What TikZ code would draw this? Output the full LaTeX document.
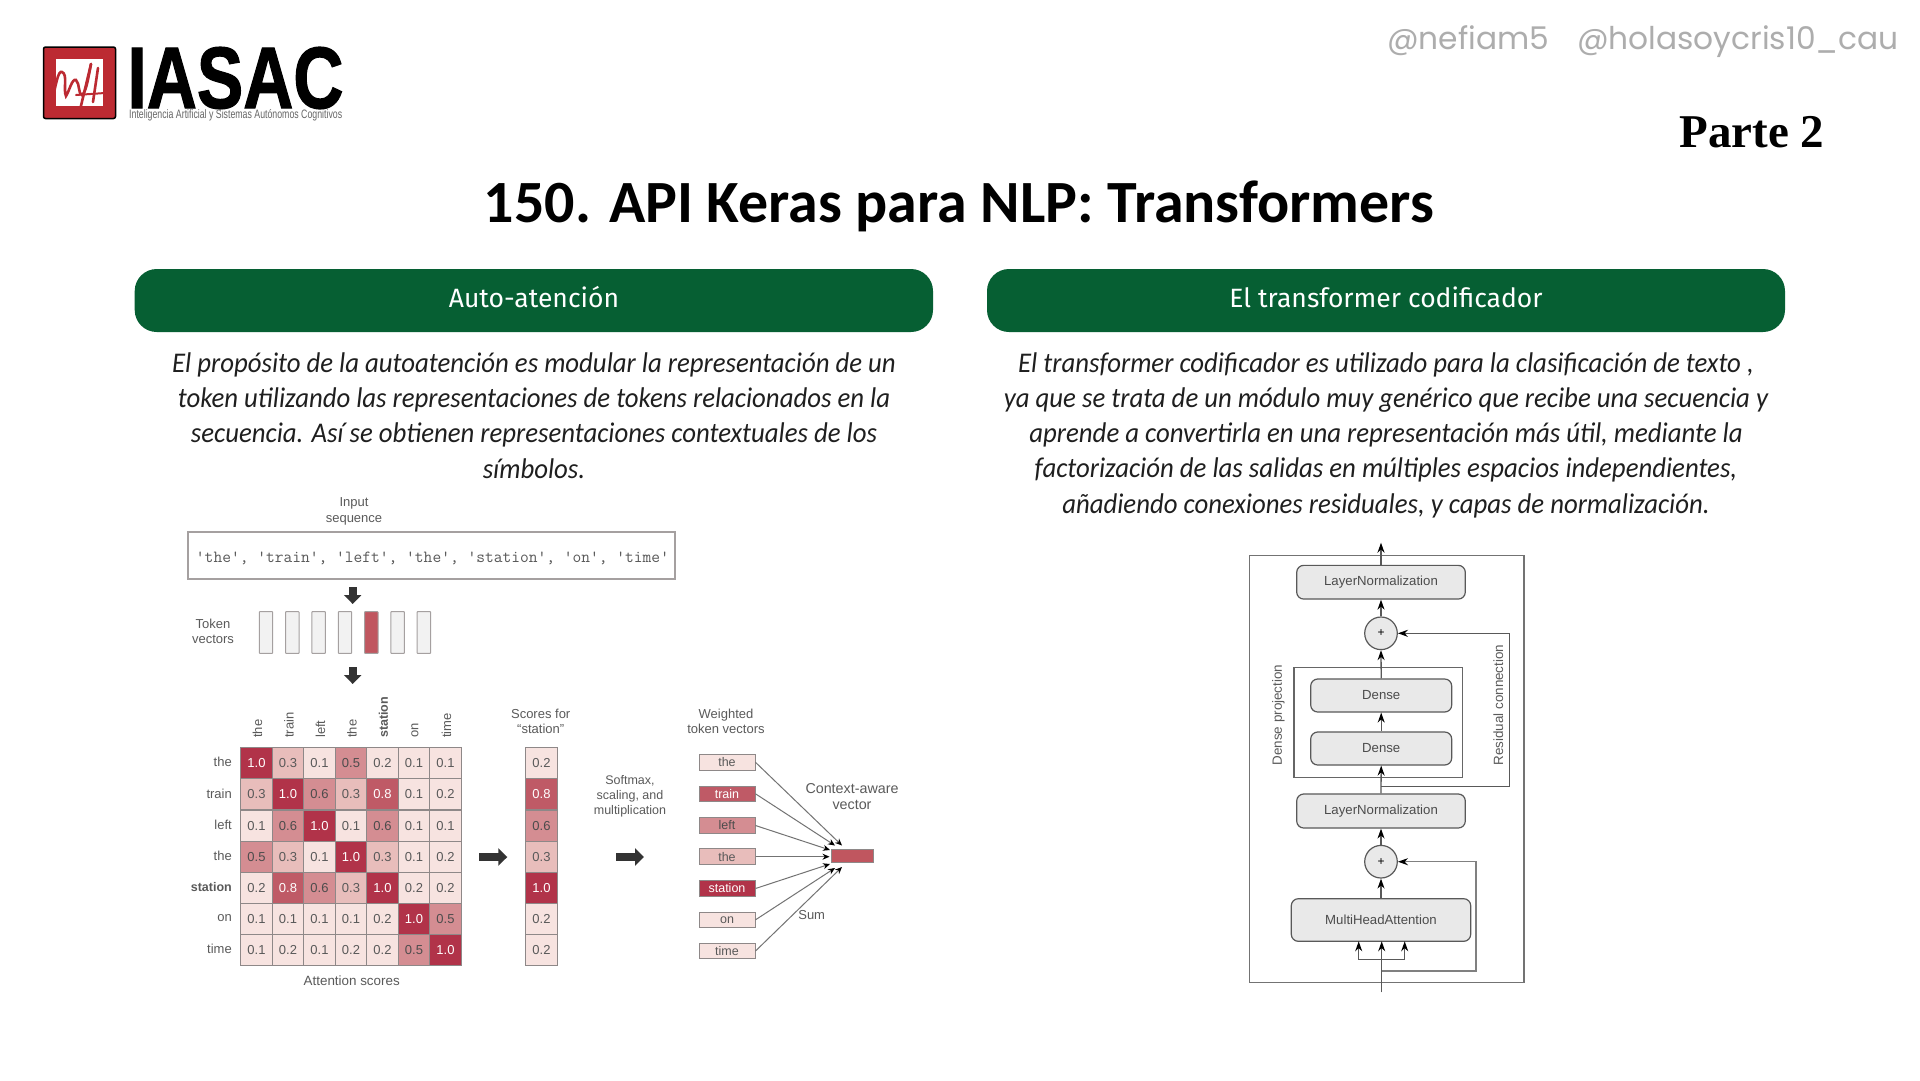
\documentclass[tikz,border=0pt]{standalone}
\usepackage{fontspec}
\usepackage{graphicx}
\usetikzlibrary{arrows.meta}
\setmainfont{Liberation Sans}
\newfontfamily\bodyfont[FakeStretch=0.94]{Carlito}
\newfontfamily\headfont{Fira Sans}
\newfontfamily\titlefont{Carlito}
\newfontfamily\logofont[FakeBold=1.5]{Liberation Sans}
\newfontfamily\partfont{Liberation Serif}
\newfontfamily\handfont{Poppins}
\newcommand{\fs}[2]{\fontsize{#1pt}{#2pt}\selectfont}
\definecolor{barGreen}{HTML}{065F33}
\definecolor{logoRed}{HTML}{BC2A32}
\definecolor{lineGray}{HTML}{8E8888}
\definecolor{txtGray}{HTML}{5A5A5A}
\definecolor{tokRed}{HTML}{C0565F}
\definecolor{valA}{HTML}{B13349}
\definecolor{valB}{HTML}{BF5A66}
\definecolor{valC}{HTML}{D48D92}
\definecolor{valD}{HTML}{E8BDBB}
\definecolor{valE}{HTML}{F7E3E0}
\definecolor{layerFill}{HTML}{E9E9E9}
\tikzset{
  greenbar/.style={fill=barGreen,rounded corners=22pt,draw=none},
  bartext/.style={text=white,font=\headfont\fs{26.5}{32},inner sep=0pt},
  bodytext/.style={align=center,inner sep=0pt,text=black!88,font=\bodyfont\itshape\fs{28.5}{35.2}},
  lab/.style={text=txtGray,font=\fs{13}{15.3},align=center,inner sep=0pt},
  boldlab/.style={text=txtGray,font=\bfseries\fs{12.5}{15},inner sep=0pt},
  token/.style={draw=lineGray!80,fill=black!5,line width=1pt,minimum width=13.4pt,minimum height=41.6pt,inner sep=0pt,rounded corners=0.5pt},
  cell/.style={draw=lineGray,line width=1pt,minimum width=31.5pt,minimum height=31.1pt,inner sep=0pt,font=\fs{13}{15}},
  wbox/.style={draw=lineGray,line width=1pt,minimum width=56pt,minimum height=15.5pt,inner sep=0pt,font=\fs{12.5}{15}},
  val 1.0/.style={fill=valA,text=white},
  val 0.8/.style={fill=valB,text=white},
  val 0.6/.style={fill=valC,text=black!70},
  val 0.5/.style={fill=valC,text=black!70},
  val 0.3/.style={fill=valD,text=black!65},
  val 0.2/.style={fill=valE,text=black!65},
  val 0.1/.style={fill=valE,text=black!65},
  bigarrow/.style={-{Triangle[length=9pt,width=17pt]},line width=8pt,draw=black!80},
  sumarrow/.style={-{Stealth[length=7pt,width=6pt,color=black]},draw=black!55,line width=1pt},
  layer/.style={draw=black!65,fill=layerFill,line width=1.2pt,rounded corners=7pt,inner sep=0pt,text=black!70,font=\fs{13.2}{15}},
  plusnode/.style={circle,draw=black!65,fill=layerFill,line width=1.2pt,minimum size=32.6pt,inner sep=0pt,font=\fs{12}{14}},
  conn/.style={-{Stealth[length=10pt,width=7pt,color=black]},draw=black!65,line width=1.3pt},
  frame/.style={draw=black!60,line width=1.2pt,inner sep=0pt},
}
\begin{document}
\begin{tikzpicture}[x=1pt,y=-1pt]
\useasboundingbox (0,0) rectangle (1920,1080);
\fill[white] (0,0) rectangle (1920,1080);

% ---- logo
\fill[logoRed,draw=black,line width=1.5pt,rounded corners=2pt] (43.5,47) rectangle (115.5,118.5);
\fill[white] (55.7,59) rectangle (103,105.7);
\draw[logoRed,line width=2.6pt,line cap=round]
  (52,101) .. controls (56,85) and (58,70) .. (62,72) .. controls (68,74) and (63,90) .. (66,96)
  .. controls (69,92) and (72,78) .. (76,80) .. controls (80,84) and (78,94) .. (82,95)
  .. controls (86,92) and (88,80) .. (91,64);
\draw[logoRed,line width=2.6pt,line cap=round] (91,64) -- (80,110);
\draw[logoRed,line width=2.6pt,line cap=round] (98,68) -- (93,102);
\draw[logoRed,line width=2pt,line cap=round] (76,95) -- (105,93);
\node[inner sep=0pt] (logoname) at (235.5,78) {\resizebox{216pt}{61pt}{\logofont\bfseries\fontsize{60pt}{60pt}\selectfont IASAC}};
\node[anchor=west,inner sep=0pt,text=black!60] (logosub) at (129,115) {\resizebox{213pt}{9pt}{\fontsize{14pt}{14pt}\selectfont Inteligencia Artificial y Sistemas Autónomos Cognitivos}};

% ---- header
\node[inner sep=0pt,text=black!32] (hand1) at (1468,41) {\resizebox{162pt}{!}{\handfont\fontsize{30pt}{30pt}\selectfont @nefiam5}};
\node[inner sep=0pt,text=black!32] (hand2) at (1738,42) {\resizebox{322pt}{!}{\handfont\fontsize{30pt}{30pt}\selectfont @holasoycris10\_cau}};
\node[inner sep=0pt] (parte) at (1752,132) {\partfont\bfseries\fs{47}{50}Parte 2};
\node[inner sep=0pt] (title) at (959,206.5) {\resizebox{950pt}{!}{\titlefont\bfseries\fontsize{60pt}{60pt}\selectfont 150. API Keras para NLP: Transformers}};

% ---- green bars
\path[greenbar] (134.7,269) rectangle (933,332);
\path[greenbar] (987,269) rectangle (1785,332);
\node[bartext] (barA) at (534,297) {Auto-atención};
\node[bartext] (barB) at (1386,297) {El transformer codificador};

% ---- body text
\node[bodytext] (bodyA) at (534,415.5) {El propósito de la autoatención es modular la representación de un\\
token utilizando las representaciones de tokens relacionados en la\\
secuencia. Así se obtienen representaciones contextuales de los\\
símbolos.};
\node[bodytext] (bodyB) at (1386,435) {El transformer codificador es utilizado para la clasificación de texto ,\\
ya que se trata de un módulo muy genérico que recibe una secuencia y\\
aprende a convertirla en una representación más útil, mediante la\\
factorización de las salidas en múltiples espacios independientes,\\
añadiendo conexiones residuales, y capas de normalización.};

% ---- left diagram: input
\node[lab] (inlab) at (354,511.5) {Input\\sequence};
\node[draw=lineGray!80,line width=1.4pt,minimum width=487pt,minimum height=47pt,inner sep=0pt] (inbox) at (431.5,555.5) {};
\node[inner sep=0pt,text=black!65] (inseq) at (432.5,558) {\resizebox{473pt}{!}{\ttfamily\fontsize{14pt}{14pt}\selectfont 'the', 'train', 'left', 'the', 'station', 'on', 'time'}};
\node[lab] (toklab) at (213,631) {Token\\vectors};
\foreach \x/\n in {266/1,292.3/2,318.6/3,345/4,397.6/6,423.8/7}
  \node[token] (tok\n) at (\x,632.5) {};
\node[token,fill=tokRed] (tok5) at (371.3,632.5) {};
\coordinate (a1s) at (352.7,587); \coordinate (a1e) at (352.7,604);
\coordinate (a2s) at (352.7,667); \coordinate (a2e) at (352.7,684);
\draw[bigarrow] (a1s) -- (a1e);
\draw[bigarrow] (a2s) -- (a2e);

% ---- attention matrix
\foreach \rowvals [count=\r] in {
  {1.0,0.3,0.1,0.5,0.2,0.1,0.1},
  {0.3,1.0,0.6,0.3,0.8,0.1,0.2},
  {0.1,0.6,1.0,0.1,0.6,0.1,0.1},
  {0.5,0.3,0.1,1.0,0.3,0.1,0.2},
  {0.2,0.8,0.6,0.3,1.0,0.2,0.2},
  {0.1,0.1,0.1,0.1,0.2,1.0,0.5},
  {0.1,0.2,0.1,0.2,0.2,0.5,1.0}}{
  \foreach \v [count=\c] in \rowvals
    \node[cell,val \v] (m\r-\c) at ({240.7+31.5*(\c-0.5)},{747.7+31.14*(\r-0.5)}) {\v};
}
\foreach \t/\r in {the/1,train/2,left/3,the/4,on/6,time/7}
  \node[lab,anchor=east] (rowlab\r) at (232,{747.7+31.14*(\r-0.5)-1}) {\t};
\node[boldlab,anchor=east] (rowlab5) at (232,{747.7+31.14*4.5-1}) {station};
\foreach \t/\c in {the/1,train/2,left/3,the/4,on/6,time/7}
  \node[lab,rotate=90,anchor=west] (collab\c) at ({240.7+31.5*(\c-0.5)+1},738) {\t};
\node[boldlab,rotate=90,anchor=west] (collab5) at ({240.7+31.5*4.5+1},738) {station};
\node[lab,font=\fs{13.4}{15}] (attlab) at (351.7,980.7) {Attention scores};

% ---- scores column
\node[lab] (scorelab) at (540.7,721.5) {Scores for\\“station”};
\foreach \v [count=\r] in {0.2,0.8,0.6,0.3,1.0,0.2,0.2}
  \node[cell,val \v,minimum width=32.4pt] (s\r) at (541.5,{747.7+31.14*(\r-0.5)}) {\v};
\coordinate (a3s) at (479.3,857); \coordinate (a3e) at (507.3,857);
\coordinate (a4s) at (616,857); \coordinate (a4e) at (644,857);
\draw[bigarrow] (a3s) -- (a3e);
\draw[bigarrow] (a4s) -- (a4e);
\node[lab,font=\fs{12.5}{15.2}] (softlab) at (630,796.5) {Softmax,\\scaling, and\\multiplication};

% ---- weighted vectors
\node[lab] (weightlab) at (726,721.5) {Weighted\\token vectors};
\node[wbox,val 0.2] (w1) at (727,762.3) {the};
\node[wbox,val 0.8] (w2) at (727,793.8) {train};
\node[wbox,val 0.6] (w3) at (727,825.5) {left};
\node[wbox,val 0.3] (w4) at (727,856.7) {the};
\node[wbox,val 1.0] (w5) at (727,888.5) {station};
\node[wbox,val 0.2] (w6) at (727,919.8) {on};
\node[wbox,val 0.2] (w7) at (727,951) {time};
\node[draw=lineGray,fill=tokRed,line width=1pt,minimum width=41.6pt,minimum height=13.3pt,inner sep=0pt] (ctx) at (852.5,855.7) {};
\node[lab,font=\fs{14.3}{15.3}] (ctxlab) at (852,796.6) {Context-aware\\vector};
\node[lab] (sumlab) at (811.7,915.3) {Sum};
\coordinate (t1) at (842,845.5);
\coordinate (t2) at (835,845.5);
\coordinate (t3) at (830,850);
\coordinate (t4) at (829.5,856.7);
\coordinate (t5) at (830,864);
\coordinate (t6) at (835,868);
\coordinate (t7) at (842,867);
\foreach \i in {1,...,7}
  \draw[sumarrow] (w\i.east) -- (t\i);

% ---- right diagram
\node[draw=black!55,line width=1.4pt,minimum width=274.3pt,minimum height=426.6pt,inner sep=0pt] (outer) at (1386.85,769) {};
\node[frame,minimum width=168.3pt,minimum height=110.4pt] (denseframe) at (1378.15,722.5) {};
\node[layer,minimum width=168.6pt,minimum height=33.7pt] (lnT) at (1381,582.2) {LayerNormalization};
\node[plusnode] (plusT) at (1381,633.3) {+};
\node[layer,minimum width=141pt,minimum height=33pt] (dense1) at (1381.2,695.5) {Dense};
\node[layer,minimum width=141pt,minimum height=33pt] (dense2) at (1381.2,748.5) {Dense};
\node[layer,minimum width=168.6pt,minimum height=34pt] (lnB) at (1381,811) {LayerNormalization};
\node[plusnode] (plusB) at (1381,861.7) {+};
\node[layer,minimum width=179.4pt,minimum height=42.6pt] (mha) at (1381,920) {MultiHeadAttention};
\coordinate (topout) at (1381,542.7);
\coordinate (tapT) at (1381,786.7);
\coordinate (cornT) at (1509.3,633.3);
\coordinate (tapB) at (1381.7,971);
\coordinate (cornB) at (1476,861.7);
\coordinate (inbot) at (1381.7,992.3);
\coordinate (fork) at (1381.7,959.3);
\coordinate (mhaL) at (1358.7,941.3);
\coordinate (mhaC) at (1381.7,941.3);
\coordinate (mhaR) at (1404.7,941.3);
\draw[conn] (lnT.north) -- (topout);
\draw[conn] (plusT.north) -- (lnT.south);
\draw[conn] (dense1.north) -- (plusT.south);
\draw[conn] (dense2.north) -- (dense1.south);
\draw[conn] (lnB.north) -- (dense2.south);
\draw[conn] (plusB.north) -- (lnB.south);
\draw[conn] (mha.north) -- (plusB.south);
\draw[conn] (tapT) -| (cornT) -- (plusT.east);
\draw[conn,draw=black!50,line width=1.5pt] (tapB) -| (cornB) -- (plusB.east);
\draw[conn] (inbot) -- (mhaC);
\draw[conn] (fork) -| (mhaL);
\draw[conn] (fork) -| (mhaR);
\node[lab,rotate=90,font=\fs{13.4}{15}] (denselab) at (1278.3,715) {Dense projection};
\node[lab,rotate=90,font=\fs{13.4}{15}] (reslab) at (1498.3,705) {Residual connection};
\end{tikzpicture}
\end{document}
